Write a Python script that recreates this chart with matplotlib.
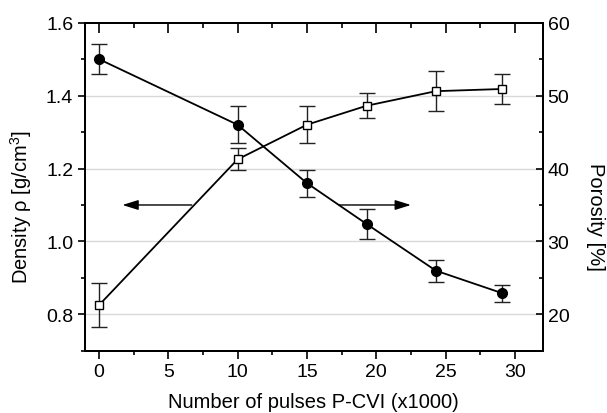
import matplotlib
matplotlib.use("Agg")
import matplotlib.pyplot as plt
from matplotlib.ticker import MultipleLocator

plt.rcParams['font.family'] = ['Liberation Sans', 'DejaVu Sans']
plt.rcParams['mathtext.fontset'] = 'custom'
plt.rcParams['mathtext.rm'] = 'Liberation Sans'
plt.rcParams['mathtext.it'] = 'Liberation Sans:italic'

pulses = [0, 10, 15, 19.3, 24.3, 29.1]
density = [0.825, 1.225, 1.32, 1.372, 1.412, 1.418]
density_err = [0.06, 0.03, 0.05, 0.034, 0.055, 0.04]
porosity = [55.0, 46.0, 38.0, 32.4, 26.0, 22.9]
porosity_err = [2.0, 2.5, 1.85, 2.0, 1.5, 1.2]

FS = 14
LFS = 14.5

fig = plt.figure(figsize=(6.07, 4.14), dpi=100)
ax = fig.add_axes([0.140, 0.150, 0.754, 0.793])
ax2 = ax.twinx()

ax.set_xlim(-1, 32)
ax.set_ylim(0.7, 1.6)
ax2.set_ylim(15, 60)

for yv in [0.8, 1.0, 1.2, 1.4]:
    ax.axhline(yv, color='#d9d9d9', lw=1.0, zorder=0)

ax.errorbar(pulses, density, yerr=density_err, fmt='-s', color='black',
            ecolor='#222222', elinewidth=1.0, capsize=6, capthick=1.0,
            markersize=6, markerfacecolor='white', markeredgecolor='black',
            markeredgewidth=1.0, lw=1.3, zorder=3)
ax2.errorbar(pulses, porosity, yerr=porosity_err, fmt='-o', color='black',
             ecolor='#222222', elinewidth=1.0, capsize=6, capthick=1.0,
             markersize=7, markerfacecolor='black', markeredgecolor='black',
             lw=1.3, zorder=3)

ax.annotate('', xy=(1.7, 1.1), xytext=(6.7, 1.1),
            arrowprops=dict(arrowstyle='-|>,head_length=0.8,head_width=0.25',
                            color='black', lw=1.0,
                            mutation_scale=12, shrinkA=0, shrinkB=0))
ax.annotate('', xy=(22.5, 1.1), xytext=(17.3, 1.1),
            arrowprops=dict(arrowstyle='-|>,head_length=0.8,head_width=0.25',
                            color='black', lw=1.0,
                            mutation_scale=12, shrinkA=0, shrinkB=0))

ax.set_xticks([0, 5, 10, 15, 20, 25, 30])
ax.xaxis.set_minor_locator(MultipleLocator(2.5))
ax.set_yticks([0.8, 1.0, 1.2, 1.4, 1.6])
ax.yaxis.set_minor_locator(MultipleLocator(0.1))
ax2.set_yticks([20, 30, 40, 50, 60])
ax2.yaxis.set_minor_locator(MultipleLocator(5))

ax.tick_params(axis='x', which='major', direction='out', length=6, width=1.2,
               labelsize=FS, pad=3)
ax.tick_params(axis='x', which='minor', direction='out', length=3, width=1.2)
ax.tick_params(axis='y', which='major', direction='out', length=5, width=1.2, labelsize=FS)
ax.tick_params(axis='y', which='minor', direction='out', length=3, width=1.2)
ax2.tick_params(axis='y', which='major', direction='in', length=5, width=1.2, labelsize=FS)
ax2.tick_params(axis='y', which='minor', direction='in', length=3, width=1.2)

top = ax.secondary_xaxis('top')
top.set_xticks([0, 5, 10, 15, 20, 25, 30])
top.xaxis.set_minor_locator(MultipleLocator(2.5))
top.tick_params(axis='x', which='major', direction='in', length=7, width=1.2, labeltop=False)
top.tick_params(axis='x', which='minor', direction='in', length=3.5, width=1.2)
top.spines['top'].set_linewidth(1.4)

for a in (ax, ax2):
    for s in a.spines.values():
        s.set_linewidth(1.4)

ax.set_xlabel('Number of pulses P-CVI (x1000)', fontsize=LFS, va='center')
ax.xaxis.set_label_coords(0.5, -0.155)
ax.set_ylabel('Density \u03c1 [g/cm$^3$]', fontsize=LFS, va='center')
ax.yaxis.set_label_coords(-0.14, 0.44)
ax2.set_ylabel('Porosity [%]', fontsize=LFS, rotation=270, va='center')
ax2.yaxis.set_label_coords(1.115, 0.41)

fig.savefig('out.png', dpi=100)
